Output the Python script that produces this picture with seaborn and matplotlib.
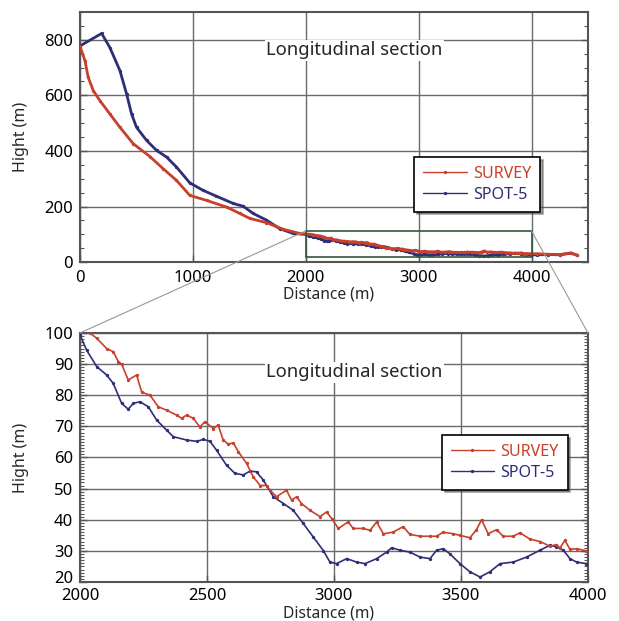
import numpy as np
import pandas as pd
import matplotlib
matplotlib.use("Agg")
import matplotlib.pyplot as plt
import matplotlib.transforms as mtransforms
from matplotlib.patches import Rectangle, ConnectionPatch
import seaborn as sns

# Datos.
# Perfil general (0-2000 m y 4000-4400 m).
survey_head_x = [0, 44, 73, 118, 177, 265, 354, 472, 619, 737, 855, 973, 1121,
                 1298, 1416, 1504, 1652, 1800, 1947]
survey_head_y = [778, 725, 665, 617, 581, 533, 485, 426, 380, 336, 294, 240, 222,
                 198, 175, 157, 142, 118, 103]
spot_head_x = [0, 192, 265, 354, 413, 457, 501, 590, 678, 767, 855, 973, 1091,
               1209, 1357, 1445, 1534, 1652, 1770, 1888]
spot_head_y = [778, 823, 772, 689, 605, 533, 485, 438, 402, 378, 342, 285, 258,
               237, 211, 201, 175, 151, 120, 103]
survey_tail_x = [4050, 4150, 4250, 4350, 4400]
survey_tail_y = [30, 28, 27, 33, 25]
spot_tail_x = [4050, 4150, 4250, 4350, 4400]
spot_tail_y = [26, 27, 26, 32, 25]

# Detalle 2000-4000 m.
survey_x = [2039, 2066, 2105, 2131, 2151, 2164, 2190, 2223, 2243, 2276, 2308,
            2341, 2381, 2400, 2420, 2446, 2472, 2492, 2525, 2544, 2564, 2584,
            2604, 2623, 2656, 2682, 2709, 2735, 2748, 2774, 2813, 2833, 2853,
            2872, 2906, 2945, 2971, 2991, 3017, 3056, 3076, 3115, 3142, 3168,
            3194, 3233, 3272, 3299, 3339, 3378, 3404, 3430, 3469, 3496, 3535,
            3561, 3581, 3607, 3640, 3666, 3706, 3732, 3771, 3811, 3850, 3876,
            3890, 3909, 3929, 3955, 3994]
survey_y = [100, 98.3, 95, 94, 90.8, 90, 84.9, 86.5, 81, 80, 76.3,
            75.2, 73.6, 72.6, 73.6, 72.6, 69.8, 71.5, 69.3, 70.4, 65.6, 64.3,
            64.7, 61.9, 58.1, 53.8, 51, 51, 49.5, 47.4, 49.5, 46.3, 47.4,
            45.2, 43, 41, 42.5, 40.4, 37.2, 39.3, 37.2, 37.2, 36.6, 39.3,
            35.5, 36, 37.8, 35.3, 34.7, 34.7, 34.7, 36, 35.5, 35, 34.2,
            36.8, 40, 35.5, 36.8, 34.7, 34.7, 35.8, 33.8, 33, 31.5, 32,
            30.9, 33.4, 30.5, 30.7, 30]
spot_x = [2000, 2026, 2066, 2105, 2131, 2164, 2190, 2210, 2236, 2269, 2302,
          2341, 2367, 2420, 2459, 2486, 2512, 2538, 2577, 2610, 2643, 2669,
          2695, 2722, 2761, 2801, 2840, 2879, 2918, 2958, 2984, 3010, 3050,
          3089, 3122, 3168, 3207, 3227, 3260, 3299, 3339, 3378, 3404, 3430,
          3457, 3496, 3535, 3575, 3614, 3654, 3706, 3758, 3811, 3850, 3876,
          3903, 3929, 3955, 3994]
spot_y = [99.4, 94.5, 89.2, 86.5, 83.8, 77.4, 75.5, 77.4, 77.9, 76.3, 72,
          68.8, 66.7, 65.6, 65.2, 65.8, 65.2, 62.3, 57.5, 54.9, 54.4, 55.6,
          55.4, 52.7, 47.4, 45.2, 43, 38.8, 34.5, 30.1, 26.4, 25.9, 27.5,
          26.4, 25.9, 27.5, 29.6, 31, 30.2, 29.6, 28, 27.5, 30.2, 30.7,
          29, 25.9, 23.3, 21.6, 23.3, 25.9, 26.4, 28, 30.2, 31.8, 31.3,
          30.2, 27.5, 26.4, 25.9]

# Colores.
rojo = '#c8402c'
azul = '#2e2e78'

sns.set_style('white')
plt.rcParams['font.family'] = ['Noto Sans', 'DejaVu Sans']

fig = plt.figure(figsize=(6.19, 6.21), dpi=100)
ax1 = fig.add_axes([0.1292, 0.578, 0.8207, 0.4026])
ax2 = fig.add_axes([0.1292, 0.0628, 0.8207, 0.401])

# Tablas para seaborn.
top_survey = pd.DataFrame({'x': survey_head_x + survey_x + survey_tail_x,
                           'y': survey_head_y + survey_y + survey_tail_y})
top_spot = pd.DataFrame({'x': spot_head_x + spot_x + spot_tail_x,
                         'y': spot_head_y + spot_y + spot_tail_y})
det_survey = pd.DataFrame({'x': survey_x, 'y': survey_y})
det_spot = pd.DataFrame({'x': spot_x, 'y': spot_y})


def dibuja(ax, d_survey, d_spot, lw):
    sns.lineplot(data=d_survey, x='x', y='y', ax=ax, color=rojo, lw=lw,
                 marker='o', markersize=2.4, markeredgewidth=0, label='SURVEY',
                 sort=False, estimator=None, zorder=4)
    sns.lineplot(data=d_spot, x='x', y='y', ax=ax, color=azul, lw=lw,
                 marker='o', markersize=2.4, markeredgewidth=0, label='SPOT-5',
                 sort=False, estimator=None, zorder=3)


dibuja(ax1, top_survey, top_spot, 2.0)
dibuja(ax2, det_survey, det_spot, 1.2)

# Ejes superiores.
ax1.set_xlim(0, 4500)
ax1.set_ylim(0, 900)
ax1.set_xticks([0, 1000, 2000, 3000, 4000])
ax1.set_yticks([0, 200, 400, 600, 800])
ax1.set_yticks(np.arange(0, 901, 50), minor=True)

# Ejes inferiores.
ax2.set_xlim(2000, 4000)
ax2.set_ylim(20, 100)
ax2.set_xticks([2000, 2500, 3000, 3500, 4000])
ax2.set_yticks(np.arange(20, 101, 10))
ax2.set_yticks(np.arange(20, 101, 1), minor=True)

for ax, pos, xl, xp in [(ax1, 0.848, -0.098, 6), (ax2, 0.843, -0.095, 4.5)]:
    ax.grid(True, which='major', color='#6a6a6a', lw=1.0, zorder=0)
    ax.set_axisbelow(True)
    for s in ax.spines.values():
        s.set_color('#555555')
        s.set_linewidth(1.5)
    ax.tick_params(axis='both', which='both', direction='in', left=True,
                   right=True, bottom=True, labelsize=12, colors='#555555',
                   labelcolor='black')
    ax.tick_params(axis='y', pad=5)
    ax.tick_params(axis='x', pad=xp)
    ax.tick_params(which='major', length=5, width=1)
    ax.tick_params(which='minor', length=3, width=0.8)
    ax.set_xlabel('Distance (m)', fontsize=11.2)
    ax.set_ylabel('Hight (m)', fontsize=11.5)
    ax.xaxis.set_label_coords(0.49, xl)
    ax.yaxis.set_label_coords(-0.10, 0.5)
    ax.text(0.54, pos, 'Longitudinal section', transform=ax.transAxes,
            ha='center', va='center', fontsize=13.3, zorder=6,
            bbox=dict(facecolor='white', edgecolor='none', pad=1))

# El "20" inferior queda un poco más arriba, como en el original.
lab20 = ax2.yaxis.get_major_ticks()[0].label1
lab20.set_transform(lab20.get_transform() +
                    mtransforms.ScaledTranslation(0, 3.5 / 72, fig.dpi_scale_trans))

# Leyendas.
for ax, anc in [(ax1, (0.906, 0.42)), (ax2, (0.96, 0.59))]:
    leg = ax.legend(loc='upper right', bbox_to_anchor=anc, fontsize=11.6,
                    frameon=True, fancybox=False, shadow=True,
                    edgecolor='black', handlelength=2.7, borderpad=0.55,
                    labelspacing=0.3, handletextpad=0.4, borderaxespad=0)
    leg.get_frame().set_linewidth(1.2)
    for t, c in zip(leg.get_texts(), [rojo, azul]):
        t.set_color(c)
    for h in leg.get_lines():
        h.set_linewidth(1.0)

# Recuadro de ampliación y líneas de conexión.
ax1.add_patch(Rectangle((2000, 20), 2000, 92, fill=False, edgecolor='#2f5a3a',
                        lw=1.2, zorder=5))
for xa, xb in [(2000, 2000), (4000, 4000)]:
    con = ConnectionPatch(xyA=(xa, 112), coordsA=ax1.transData,
                          xyB=(xb, 100), coordsB=ax2.transData,
                          color='#999999', lw=0.8)
    fig.add_artist(con)

fig.savefig('out.png', dpi=100)
